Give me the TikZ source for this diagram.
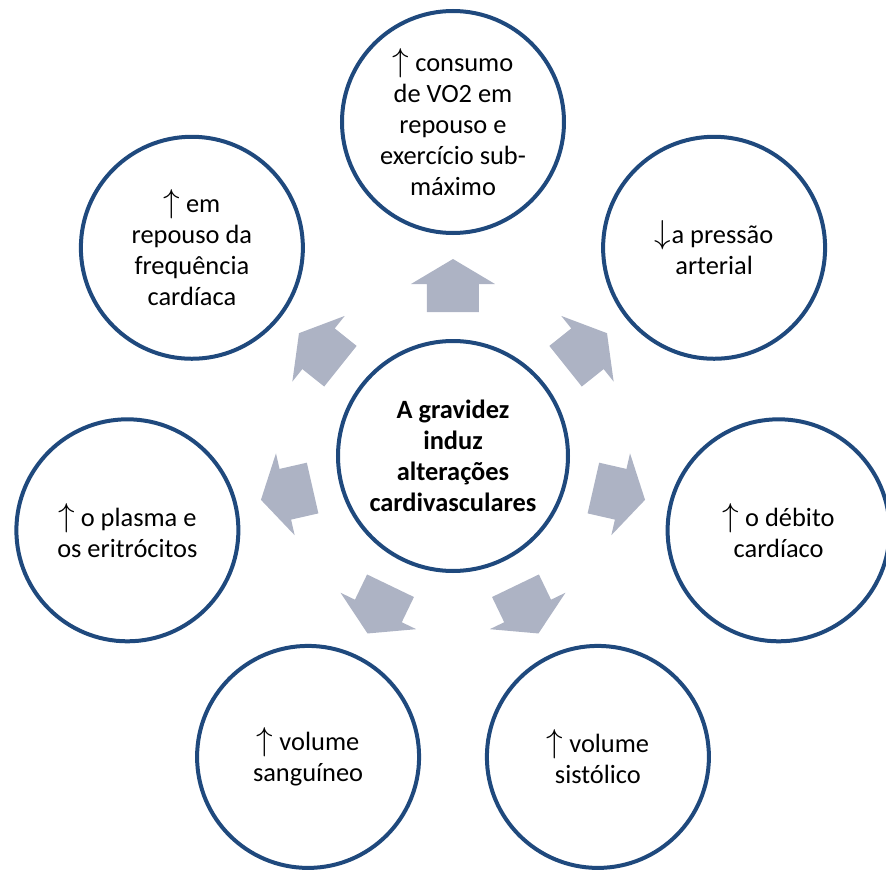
\documentclass[tikz,border=0pt]{standalone}
\usepackage{fontspec}
\setmainfont{Carlito}
\definecolor{ringblue}{RGB}{31,73,125}
\definecolor{arrowgray}{RGB}{173,179,196}
% thin vertical arrows set a little larger than the surrounding text
\newcommand{\upar}{{\fontsize{23}{23}\selectfont$\uparrow$}}
\newcommand{\downar}{{\fontsize{23}{23}\selectfont$\downarrow$}}
\begin{document}
\begin{tikzpicture}[x=0.75pt,y=0.75pt,
  bubble/.style={circle,draw=ringblue,line width=3pt,fill=white,inner sep=0pt,
    align=center,font=\fontsize{19.8}{23.4}\selectfont},
  hub/.style={bubble,minimum size=172.5pt,font=\fontsize{19.8}{23.4}\selectfont\bfseries},
  leaf/.style={bubble,minimum size=166.5pt},
  spoke/.style={fill=arrowgray}]
\useasboundingbox (-453,-416) rectangle (433,456);

% block arrows radiating from the hub
\foreach \a in {90,38.571,-12.857,-64.286,-115.714,-167.143,-218.571}
  \fill[spoke,rotate=\a] (144,-26) -- (172,-26) -- (172,-42) -- (197,0)
     -- (172,42) -- (172,26) -- (144,26) -- cycle;

% central bubble
\node[hub] (c) at (0,0) {A gravidez\\induz\\alterações\\cardivasculares};

% outer bubbles, clockwise from the top
\node[leaf] (o1) at (90:334) {\upar{} consumo\\de VO2 em\\repouso e\\exercício sub-\\máximo};
\node[leaf] (o2) at (38.571:334) {\downar a pressão\\arterial};
\node[leaf] (o3) at (-12.857:334) {\upar{} o débito\\cardíaco};
\node[leaf] (o4) at (-64.286:334) {\upar{} volume\\sistólico};
\node[leaf] (o5) at (-115.714:334) {\upar{} volume\\sanguíneo};
\node[leaf] (o6) at (-167.143:334) {\upar{} o plasma e\\os eritrócitos};
\node[leaf] (o7) at (-218.571:334) {\upar{} em\\repouso da\\frequência\\cardíaca};
\end{tikzpicture}
\end{document}
